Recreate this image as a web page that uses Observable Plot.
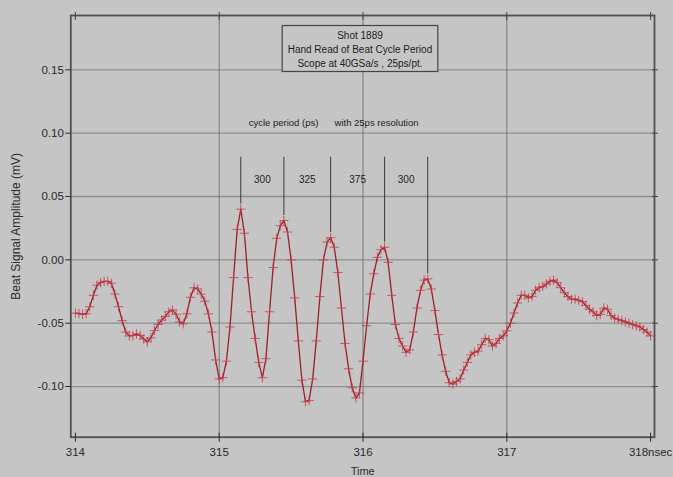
<!DOCTYPE html>
<html>
<head>
<meta charset="utf-8">
<script src="https://cdn.jsdelivr.net/npm/d3@7"></script>
<script src="https://cdn.jsdelivr.net/npm/@observablehq/plot@0.6"></script>
<style>
  html, body { margin: 0; padding: 0; background: #c5c5c5; }
  #chart svg { display: block; }
</style>
</head>
<body>
<div id="chart"></div>
<script>
// Scope record of the beat signal, one sample every 25 ps starting at 314 ns.
const startTime = 314;      // ns
const sampleStep = 0.025;   // ns per sample (40 GSa/s)
const amplitude = [
  -0.042, -0.0425, -0.043, -0.0425, -0.037, -0.028, -0.020, -0.018, -0.017, -0.017,
  -0.0185, -0.027, -0.037, -0.048, -0.057, -0.060, -0.0597, -0.0585, -0.0597, -0.0625,
  -0.0647, -0.0615, -0.0558, -0.051, -0.0475, -0.0447, -0.041, -0.0395, -0.043, -0.049,
  -0.0505, -0.0426, -0.0295, -0.022, -0.023, -0.027, -0.0326, -0.0426, -0.057, -0.079,
  -0.094, -0.093, -0.080, -0.053, -0.014, 0.024, 0.040, 0.021, -0.014, -0.041,
  -0.062, -0.081, -0.093, -0.078, -0.041, -0.006, 0.017, 0.027, 0.031, 0.022,
  0.000, -0.030, -0.064, -0.095, -0.112, -0.111, -0.094, -0.064, -0.029, 0.000,
  0.014, 0.0175, 0.010, -0.010, -0.038, -0.066, -0.086, -0.101, -0.109, -0.105,
  -0.080, -0.052, -0.027, -0.011, 0.002, 0.008, 0.010, -0.002, -0.028, -0.051,
  -0.062, -0.068, -0.073, -0.071, -0.057, -0.038, -0.024, -0.016, -0.015, -0.023,
  -0.040, -0.059, -0.075, -0.088, -0.097, -0.098, -0.096, -0.094, -0.087, -0.081,
  -0.075, -0.073, -0.072, -0.067, -0.062, -0.063, -0.068, -0.066, -0.062, -0.060,
  -0.056, -0.050, -0.042, -0.034, -0.028, -0.028, -0.030, -0.029, -0.024, -0.022,
  -0.021, -0.019, -0.017, -0.016, -0.018, -0.022, -0.026, -0.029, -0.031, -0.031,
  -0.032, -0.033, -0.036, -0.039, -0.041, -0.044, -0.043, -0.038, -0.039, -0.044,
  -0.046, -0.047, -0.048, -0.049, -0.050, -0.051, -0.052, -0.053, -0.055, -0.057,
  -0.060
];

const timeTicks = [314, 315, 316, 317, 318];
const gridTimes = [315, 316, 317];
const amplitudeTicks = [-0.10, -0.05, 0.00, 0.05, 0.10, 0.15];

// Hand-read beat cycles: first peak time (ns) and successive periods (ps)
const firstPeak = 315.15;
const cyclePeriods = [300, 325, 375, 300];

const titleLines = ["Shot 1889", "Hand Read of Beat Cycle Period", "Scope at 40GSa/s , 25ps/pt."];
const captionLeft = "cycle period (ps)";
const captionRight = "with 25ps resolution";
const xLabel = "Time";
const yLabel = "Beat Signal Amplitude (mV)";

// ---- derived tables ----
const samples = amplitude.map((v, i) => ({time: startTime + i * sampleStep, value: v}));
const peakTimes = [firstPeak];
cyclePeriods.forEach(p => peakTimes.push(+(peakTimes[peakTimes.length - 1] + p / 1000).toFixed(3)));
const peaks = peakTimes.map(t => ({time: t, value: amplitude[Math.round((t - startTime) / sampleStep)]}));
const periodLabels = cyclePeriods.map((p, i) => ({time: (peakTimes[i] + peakTimes[i + 1]) / 2, label: String(p)}));

const bg = "#c5c5c5";
const ink = "#2a2a2a";
const font = "'Liberation Sans', Arial, sans-serif";

const chart = Plot.plot({
  width: 673,
  height: 477,
  marginTop: 15,
  marginRight: 19,
  marginBottom: 40.3,
  marginLeft: 70.3,
  style: {background: bg, fontFamily: font, fontSize: "11px", color: ink},
  x: {domain: [313.968, 318.027], axis: null},
  y: {domain: [-0.140, 0.1929], axis: null},
  marks: [
    Plot.gridY(amplitudeTicks, {stroke: "#8e8e8e", strokeOpacity: 1, strokeWidth: 1.3}),
    Plot.gridX(gridTimes, {stroke: "#666", strokeOpacity: 1, strokeWidth: 0.8}),

    // title box
    Plot.frame({fill: bg, stroke: "#444", strokeWidth: 1.2,
      insetLeft: 211.4, insetRight: 216.7, insetTop: 10, insetBottom: 365.7}),
    Plot.text([titleLines.join("\n")], {text: d => d, frameAnchor: "top", dx: -2.7, dy: 33.5,
      lineAnchor: "middle", lineHeight: 1.4, fontSize: 10, fill: "#1c1c1c"}),

    // captions above the period annotations
    Plot.text([captionLeft], {text: d => d, frameAnchor: "top-left", dx: 212.7, dy: 104,
      textAnchor: "middle", fontSize: 9.5, fill: "#222"}),
    Plot.text([captionRight], {text: d => d, frameAnchor: "top-left", dx: 305.7, dy: 104,
      textAnchor: "middle", fontSize: 9.5, fill: "#222"}),

    // waveform
    Plot.line(samples, {x: "time", y: "value", stroke: "#9c1f2c", strokeWidth: 1.3}),
    Plot.dot(samples, {x: "time", y: "value", symbol: "plus", r: 3.1, stroke: "#c43a48", strokeWidth: 0.8}),

    // peak markers and period values
    Plot.ruleX(peaks, {x: "time", y1: d => d.value + 0.004, y2: 0.081, stroke: "#3a3a3a", strokeWidth: 1}),
    Plot.text(periodLabels, {x: "time", y: 0.0635, text: "label", fontSize: 10, fill: "#222"}),

    // plot border and axes
    Plot.frame({stroke: "#505050", strokeWidth: 1.8}),
    Plot.axisY(amplitudeTicks, {anchor: "left", tickSize: 5, tickPadding: 2,
      tickFormat: d => d.toFixed(2), fontSize: 11.5, color: ink, label: null}),
    Plot.axisY(amplitudeTicks, {anchor: "right", tickSize: 6, dx: -3,
      tickFormat: () => "", color: "#444", label: null}),
    Plot.axisX(timeTicks, {anchor: "bottom", tickSize: 9, dy: -4, tickPadding: 6,
      tickFormat: d => d === 318 ? "318nsec" : String(d), fontSize: 11.5, color: ink, label: null}),
    Plot.axisX(timeTicks, {anchor: "top", tickSize: 8, dy: 4,
      tickFormat: () => "", color: "#444", label: null}),
    Plot.text([xLabel], {text: d => d, frameAnchor: "bottom", dy: 34, lineAnchor: "middle",
      fontSize: 11, fill: ink}),
    Plot.text([yLabel], {text: d => d, frameAnchor: "left", dx: -55, rotate: -90,
      textAnchor: "middle", fontSize: 12, fill: ink})
  ]
});

document.getElementById("chart").append(chart);
</script>
</body>
</html>
